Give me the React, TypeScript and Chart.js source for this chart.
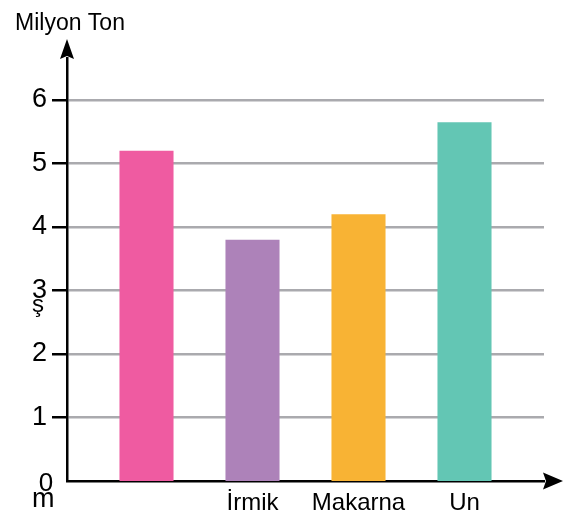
import React, { useEffect, useRef } from 'react';
import { Chart, registerables } from 'chart.js';

Chart.register(...registerables);

const categories = ['', 'İrmik', 'Makarna', 'Un'];
const values = [5.2, 3.8, 4.2, 5.65];
const barColors = ['#EF5BA1', '#AD82B9', '#F8B334', '#63C6B4'];
const yTickValues = [0, 1, 2, 3, 4, 5, 6];
const yTickLabels = ['0', '1', '2', '3', '4', '5', '6'];
const yTitle = 'Milyon Ton';
const strayTexts = ['ş', 'm'];

const FONT = '"Liberation Sans", Arial, Helvetica, sans-serif';

const decorPlugin = {
  id: 'decor',
  afterDraw(chart: any) {
    const { ctx, chartArea } = chart;
    const { left, top, right, bottom } = chartArea;
    const yScale = chart.scales.y;
    ctx.save();
    ctx.fillStyle = '#000';
    // y-axis arrow
    ctx.beginPath();
    ctx.moveTo(left, top - 19);
    ctx.lineTo(left - 7, top + 1);
    ctx.lineTo(left, top - 2);
    ctx.lineTo(left + 7, top + 1);
    ctx.closePath();
    ctx.fill();
    // x-axis arrow
    ctx.beginPath();
    ctx.moveTo(right + 19, bottom);
    ctx.lineTo(right - 1, bottom - 8.5);
    ctx.lineTo(right + 2, bottom);
    ctx.lineTo(right - 1, bottom + 8.5);
    ctx.closePath();
    ctx.fill();

    // axis title
    ctx.font = `23px ${FONT}`;
    ctx.textAlign = 'left';
    ctx.textBaseline = 'alphabetic';
    ctx.fillText(yTitle, 15, 30);

    // zero label
    const y0 = yScale.getPixelForValue(yTickValues[0]);
    ctx.font = `26px ${FONT}`;
    ctx.textAlign = 'center';
    ctx.fillText(yTickLabels[0], left - 21, y0 + 10);

    // stray glyphs
    ctx.font = `24px ${FONT}`;
    ctx.textAlign = 'center';
    ctx.fillText(strayTexts[0], left - 29, yScale.getPixelForValue(3) + 22);
    ctx.font = `27px ${FONT}`;
    ctx.textAlign = 'left';
    ctx.fillText(strayTexts[1], left - 35, y0 + 26);
    ctx.restore();
  },
};

export default function App() {
  const ref = useRef<HTMLCanvasElement | null>(null);

  useEffect(() => {
    if (!ref.current) return;
    const chart = new Chart(ref.current, {
      type: 'bar',
      data: {
        datasets: [
          {
            data: values.map((v, i) => ({ x: i + 1, y: v })),
            backgroundColor: barColors,
            borderWidth: 0,
            barPercentage: 0.51,
            categoryPercentage: 1,
          },
        ],
      },
      options: {
        animation: false,
        responsive: false,
        devicePixelRatio: 1,
        layout: { padding: { top: 58, right: 35, left: 0, bottom: 0 } },
        plugins: { legend: { display: false }, tooltip: { enabled: false } },
        scales: {
          x: {
            type: 'linear',
            min: 0.25,
            max: 4.75,
            offset: false,
            grid: { display: false, drawTicks: false, offset: false },
            border: { display: true, color: '#000', width: 2.5 },
            afterBuildTicks: (s: any) => {
              s.ticks = categories.map((_, i) => ({ value: i + 1 }));
            },
            afterFit: (s: any) => {
              s.height = 43;
            },
            ticks: {
              autoSkip: false,
              maxRotation: 0,
              padding: 8,
              color: '#000',
              font: { family: FONT, size: 24 },
              callback: (v: any) => categories[Math.round(Number(v)) - 1] ?? '',
            },
          },
          y: {
            min: 0,
            max: 6.66,
            afterBuildTicks: (s: any) => {
              s.ticks = yTickValues.map((v) => ({ value: v }));
            },
            afterFit: (s: any) => {
              s.width = 67;
            },
            grid: {
              color: '#AAAAAE',
              lineWidth: (c: any) => (c.tick && c.tick.value === 0 ? 0 : 2.5),
              tickColor: '#000',
              tickWidth: (c: any) => (c.tick && c.tick.value === 0 ? 0 : 2.5),
              tickLength: 15,
            },
            border: { display: true, color: '#000', width: 2.5 },
            ticks: {
              color: '#000',
              padding: 5,
              font: { family: FONT, size: 27 },
              callback: (v: any) => {
                const idx = yTickValues.indexOf(Number(v));
                return idx <= 0 ? '' : yTickLabels[idx];
              },
            },
          },
        },
      },
      plugins: [decorPlugin],
    });
    return () => chart.destroy();
  }, []);

  return (
    <div style={{ position: 'fixed', left: 0, top: 0, width: 579, height: 524, background: '#fff' }}>
      <canvas ref={ref} width={579} height={524} />
    </div>
  );
}
